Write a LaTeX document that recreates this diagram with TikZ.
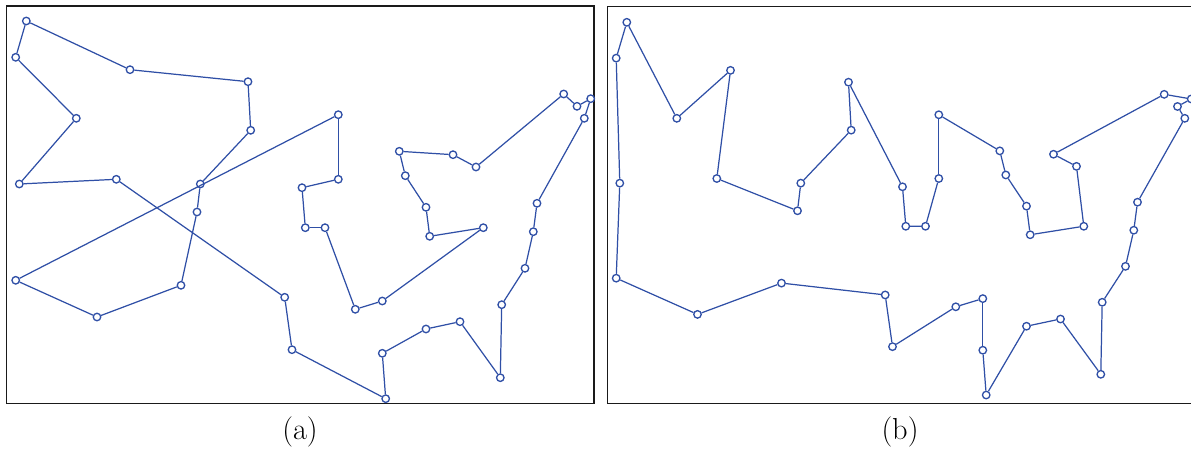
\documentclass[tikz,border=0pt]{standalone}
\usepackage{xcolor}
\usepackage{tikz}
\usetikzlibrary{calc}
\definecolor{tourc}{HTML}{2F4FA6}
\definecolor{framec}{HTML}{1A1A1A}
\tikzset{
  city/.style={circle,draw=tourc,fill=white,line width=0.75pt,inner sep=0pt,minimum size=1.5mm},
  tour/.style={tourc,line width=0.7pt},
  panel/.style={draw=framec,line width=0.85pt},
  lab/.style={font=\LARGE,inner sep=0pt}
}
% cities, numbered along the tour of panel (a); units are pixels
\newcommand\citylist{1/26.3/21, 2/15.7/57.3, 3/76.3/118.3, 4/19.3/184, 5/116.3/179.3,
  6/284.7/297.3, 7/292/349.7, 8/385.7/398.7, 9/382.3/353.3, 10/426/329,
  11/460/321.7, 12/500.3/377.7, 13/501.7/304.7, 14/525/268.3, 15/533.3/231.7,
  16/537/203.3, 17/584.3/118.3, 18/590.7/98.7, 19/577/106.3, 20/563.7/94,
  21/476/167, 22/453/154.7, 23/399.3/151.3, 24/405.3/175.7, 25/426/207.3,
  26/429.7/236.3, 27/483.3/227.7, 28/382.3/301, 29/355.3/309.3, 30/325/227.7,
  31/305.3/227.7, 32/302/187.7, 33/338.3/179.3, 34/338.3/114.7, 35/15.7/280.3,
  36/97/317, 37/181/285.3, 38/197/212, 39/200.3/184, 40/250.7/130.3,
  41/248/81.7, 42/130/69.7}
\begin{document}
\begin{tikzpicture}[x=0.02cm,y=-0.02cm]
\useasboundingbox (0,0) rectangle (1191,449);
% (a) initial tour
\draw[panel] (6.5,6) rectangle (594,403.3);
\foreach \n/\x/\y in \citylist
  \node[city] (a\n) at (\x,\y) {};
\foreach \i [remember=\i as \j (initially 42)] in {1,...,42}
  \draw[tour] (a\j) -- (a\i);
\node[lab] (capa) at (300,432) {(a)};
% (b) improved tour
\draw[panel] (607.3,6.7) rectangle (1195,403.3);
\begin{scope}[shift={(600.5,1.58)},yscale=0.9868]
\foreach \n/\x/\y in \citylist
  \node[city] (b\n) at (\x,\y) {};
\foreach \i [remember=\i as \j (initially 2)] in {1,3,42,5,38,39,40,41,32,31,30,33,34,23,24,25,26,27,21,22,20,18,19,17,16,15,14,13,12,11,10,8,9,28,29,7,6,37,36,35,4,2}
  \draw[tour] (b\j) -- (b\i);
\end{scope}
\node[lab] (capb) at (900,432) {(b)};
\end{tikzpicture}
\end{document}
